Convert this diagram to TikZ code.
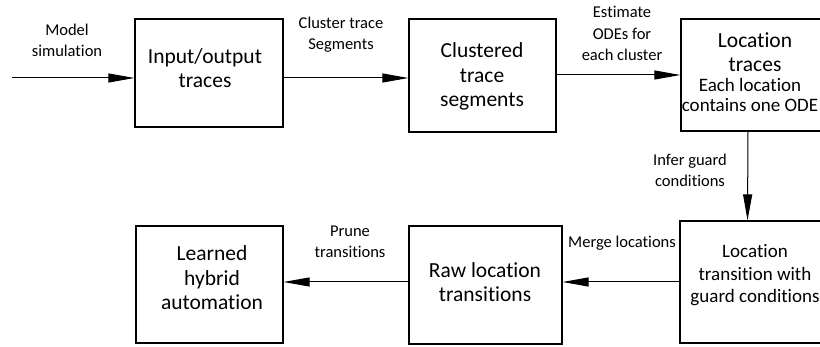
\documentclass[tikz,border=0pt]{standalone}
\usepackage{fontspec}
\setmainfont{Carlito}[Ligatures={TeX,NoCommon}]
\usetikzlibrary{arrows.meta}

\tikzset{
  blockbox/.style={draw, line width=1.2pt, inner sep=0pt},
  bigtext/.style={font=\fontsize{21.5}{24.5}\selectfont, align=center, inner sep=0pt, anchor=base},
  midtext/.style={font=\fontsize{19}{20}\selectfont, align=center, inner sep=0pt, anchor=base},
  lbl/.style={font=\fontsize{16.5}{21.5}\selectfont, align=center, inner sep=0pt, anchor=base},
  flow/.style={line width=1pt, -{Triangle[length=26pt,width=9pt]}}
}

\begin{document}
\begin{tikzpicture}[x=1pt,y=-1pt]
\useasboundingbox (0,0) rectangle (820,347);

% process blocks
\node[blockbox, minimum width=148pt, minimum height=108pt] (io)    at (209,73)    {};
\node[blockbox, minimum width=147pt, minimum height=113pt] (clu)   at (482.5,75.5) {};
\node[blockbox, minimum width=148pt, minimum height=112pt] (loc)   at (755,75)    {};
\node[blockbox, minimum width=149pt, minimum height=122pt] (guard) at (754.5,282) {};
\node[blockbox, minimum width=153pt, minimum height=118pt] (raw)   at (485.5,285) {};
\node[blockbox, minimum width=147pt, minimum height=117pt] (hyb)   at (209.5,284.5) {};

% block texts (anchored at the baseline of the last line)
\node[bigtext] (io-t)  at (205,88)   {Input/output\\traces};
\node[bigtext] (clu-t) at (482,107)  {Clustered\\trace\\segments};
\node[bigtext] (loc-t) at (755,72)   {Location\\traces};
\node[midtext] (loc-s) at (750,112)  {Each location\\contains one ODE};
\node[midtext, font=\fontsize{19}{22.5}\selectfont] (guard-t) at (755,303) {Location\\transition with\\guard conditions};
\node[bigtext] (raw-t) at (485,302)  {Raw location\\transitions};
\node[bigtext] (hyb-t) at (212,310)  {Learned\\hybrid\\automation};

% connectors
\coordinate (src) at (12,78);
\draw[flow] (src) -- (io.west |- src);
\draw[flow] (io.east |- src) -- (clu.west |- src);
\draw[flow] (clu.east |- loc.west) -- (loc.west);
\draw[flow] ([xshift=-7pt]loc.south) -- ([xshift=-7pt]guard.north);
\draw[flow] (guard.west) -- (raw.east |- guard.west);
\draw[flow] (raw.west |- guard.west) -- (hyb.east |- guard.west);

% connector labels
\node[lbl] (l-sim)   at (67,57)   {Model\\simulation};
\node[lbl] (l-clu)   at (341,50)  {Cluster trace\\Segments};
\node[lbl] (l-ode)   at (622,61)  {Estimate\\ODEs for\\each cluster};
\node[lbl] (l-guard) at (690,187) {Infer guard\\conditions};
\node[lbl] (l-merge) at (622,248) {Merge locations};
\node[lbl] (l-prune) at (350,258) {Prune\\transitions};
\end{tikzpicture}
\end{document}
